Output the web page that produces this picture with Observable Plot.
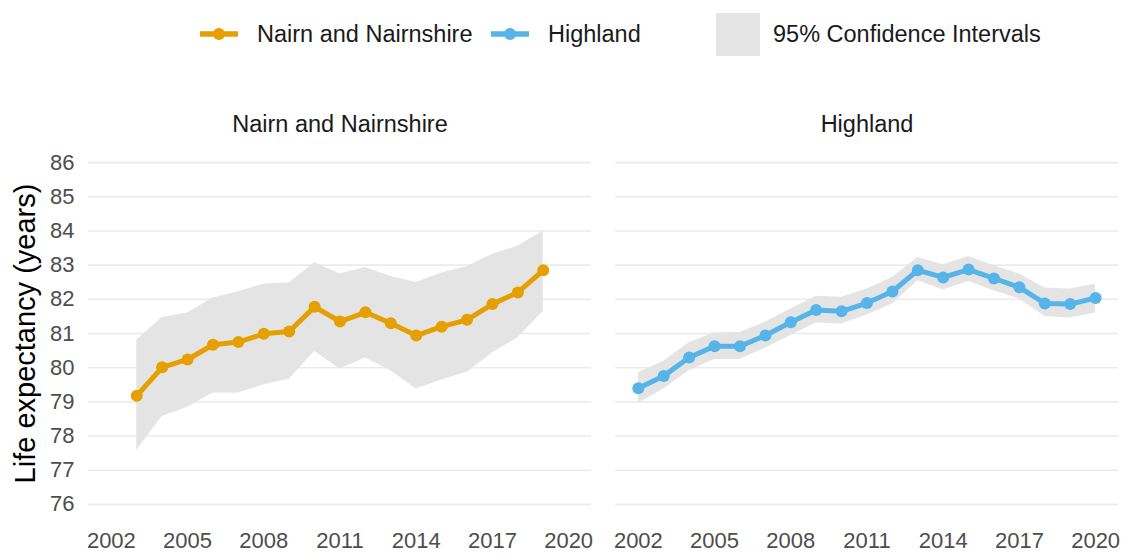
<!DOCTYPE html>
<html><head><meta charset="utf-8">
<script src="https://cdn.jsdelivr.net/npm/d3@7"></script>
<script src="https://cdn.jsdelivr.net/npm/@observablehq/plot@0.6"></script>
<style>
body{margin:0;background:#fff;font-family:"Liberation Sans",Arial,sans-serif;}
#wrap{position:relative;width:1141px;height:554px;overflow:hidden;}
#legend{position:relative;height:68px;}
.item{position:absolute;top:0;height:68px;display:flex;align-items:center;font-size:23.5px;color:#1a1a1a;white-space:nowrap;}
#chart svg{display:block;}
</style></head><body>
<div id="wrap"><div id="legend"></div><div id="chart"></div></div>
<script>
const areas = ["Nairn and Nairnshire", "Highland"];
const colors = ["#E69F00", "#56B4E9"];
const ciLabel = "95% Confidence Intervals";
const yLabel = "Life expectancy (years)";

const nairnYears = [2003,2004,2005,2006,2007,2008,2009,2010,2011,2012,2013,2014,2015,2016,2017,2018,2019];
const nairnValue = [79.18,80.01,80.24,80.67,80.75,80.99,81.06,81.78,81.35,81.62,81.30,80.94,81.20,81.40,81.86,82.20,82.85];
const nairnUpper = [80.81,81.47,81.60,82.04,82.22,82.45,82.48,83.07,82.74,82.93,82.67,82.49,82.77,82.95,83.32,83.55,84.00];
const nairnLower = [77.58,78.57,78.84,79.26,79.26,79.50,79.66,80.47,79.96,80.28,79.91,79.38,79.64,79.87,80.43,80.87,81.64];

const highlandYears = [2002,2003,2004,2005,2006,2007,2008,2009,2010,2011,2012,2013,2014,2015,2016,2017,2018,2019,2020];
const highlandValue = [79.40,79.76,80.30,80.63,80.63,80.94,81.33,81.69,81.65,81.89,82.23,82.85,82.64,82.87,82.61,82.35,81.88,81.86,82.04];
const highlandUpper = [79.85,80.19,80.73,81.02,81.03,81.33,81.72,82.09,82.06,82.30,82.64,83.22,83.01,83.25,82.98,82.74,82.33,82.30,82.45];
const highlandLower = [78.96,79.38,79.91,80.24,80.24,80.57,80.94,81.31,81.28,81.54,81.86,82.54,82.27,82.52,82.25,82.01,81.50,81.45,81.60];

const xTicks = [2002,2005,2008,2011,2014,2017,2020];
const yTicks = [76,77,78,79,80,81,82,83,84,85,86];

const rows = [
  ...nairnYears.map((y,i)=>({area:areas[0],year:y,value:nairnValue[i],upper:nairnUpper[i],lower:nairnLower[i]})),
  ...highlandYears.map((y,i)=>({area:areas[1],year:y,value:highlandValue[i],upper:highlandUpper[i],lower:highlandLower[i]}))
];

// legend
const legend = document.getElementById("legend");
function lineSym(color){
  return `<svg width="38" height="20" style="display:block"><line x1="0" x2="38" y1="10" y2="10" stroke="${color}" stroke-width="5.5"/><circle cx="19" cy="10" r="6" fill="${color}"/></svg>`;
}
const items = [
  {left:200, html: lineSym(colors[0])},
  {left:257, html: areas[0]},
  {left:491, html: lineSym(colors[1])},
  {left:548, html: areas[1]},
  {left:716, html: `<div style="width:44px;height:43px;background:#e4e4e4"></div>`},
  {left:773, html: ciLabel}
];
for (const it of items){
  const d = document.createElement("div");
  d.className = "item";
  d.style.left = it.left + "px";
  d.innerHTML = it.html;
  legend.appendChild(d);
}

const chart = Plot.plot({
  width:1141, height:486,
  marginLeft:87, marginRight:22, marginTop:77, marginBottom:33,
  style:{fontFamily:'"Liberation Sans", Arial, sans-serif', background:"white"},
  x:{domain:[2001.1, 2020.9]},
  y:{domain:[75.5, 86.5]},
  fx:{domain:areas, padding:0.045},
  color:{domain:areas, range:colors},
  marks:[
    Plot.gridY(yTicks,{stroke:"#ebebeb",strokeOpacity:1,strokeWidth:1.6}),
    Plot.areaY(rows,{x:"year",y1:"lower",y2:"upper",fx:"area",fill:"#e4e4e4"}),
    Plot.lineY(rows,{x:"year",y:"value",fx:"area",stroke:"area",strokeWidth:5}),
    Plot.dot(rows,{x:"year",y:"value",fx:"area",fill:"area",r:6}),
    Plot.axisY(yTicks,{tickSize:0,tickPadding:14,fontSize:22,fill:"#4d4d4d",label:null}),
    Plot.text([{area:areas[0], label:yLabel}],{fx:"area",text:"label",frameAnchor:"left",rotate:-90,dx:-63,fontSize:29,fill:"#000",textAnchor:"middle",lineAnchor:"middle"}),
    Plot.axisX(xTicks,{tickSize:0,tickPadding:11,fontSize:22,fill:"#4d4d4d",label:null,tickFormat:d=>String(d)}),
    Plot.axisFx({anchor:"top",tickSize:0,tickPadding:14,fontSize:23.5,fill:"#1a1a1a",label:null})
  ]
});
document.getElementById("chart").appendChild(chart);
</script>
</body></html>
